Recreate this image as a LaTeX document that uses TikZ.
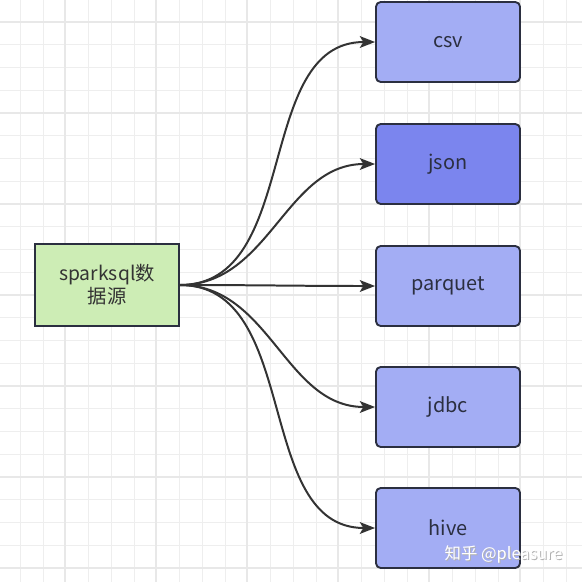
\documentclass[tikz,border=0pt]{standalone}
\usepackage{fontspec}
\setmainfont{Noto Sans CJK SC}
\usepackage{xcolor}
\usetikzlibrary{arrows.meta, positioning}

\definecolor{srcgreen}{HTML}{CDEDB5}
\definecolor{dstblue}{HTML}{A3ADF4}
\definecolor{dstdark}{HTML}{7B85EE}
\definecolor{edgedark}{HTML}{2B2F40}
\definecolor{gridgray}{HTML}{EEEEEE}

\begin{document}
\begin{tikzpicture}[x=0.03cm, y=-0.03cm,
    srcbox/.style={draw=edgedark, line width=1.6pt, fill=srcgreen,
      minimum width=4.32cm, minimum height=2.46cm, align=center,
      font=\fontsize{16.5}{19.5}\selectfont, text=black!80},
    dstbox/.style={draw=edgedark, line width=1.6pt, fill=dstblue,
      rounded corners=4pt, minimum width=4.32cm, minimum height=2.4cm,
      font=\fontsize{17}{20}\selectfont, text=edgedark},
    flow/.style={draw=black!80, line width=1.7pt,
      -{Stealth[length=13pt, width=10pt, inset=3pt]}}]
    \useasboundingbox (0,0) rectangle (582,582);
    \fill[white] (0,0) rectangle (582,582);

    % Grid
    \foreach \g in {0,...,25} {
        \draw[gridgray, line width=0.8pt] (-2.5+22.75*\g,0) -- (-2.5+22.75*\g,582);
        \draw[gridgray, line width=0.8pt] (0,-0.75+22.75*\g) -- (582,-0.75+22.75*\g);
    }
    \foreach \g in {0,...,6} {
        \draw[gray!18, line width=0.9pt] (-26+91*\g,0) -- (-26+91*\g,582);
        \draw[gray!18, line width=0.9pt] (0,22+91*\g) -- (582,22+91*\g);
    }

    % Source
    \node[srcbox] (src) at (107,285) {sparksql数\\据源};

    % Targets
    \node[dstbox] (csv) at (448,42) {csv};
    \node[dstbox, fill=dstdark] (json) at (448,164) {json};
    \node[dstbox] (parquet) at (448,286) {parquet};
    \node[dstbox] (jdbc) at (448,407) {jdbc};
    \node[dstbox] (hive) at (448,528) {hive};

    % Arrows
    \foreach \t in {csv,json,parquet,jdbc,hive}
        \draw[flow] (src.east) to[out=0, in=180] (\t.west);

    % Watermark
    \node[text=gray!60, font=\fontsize{14}{16}\selectfont] (mark0) at (504.6,555.8) {知乎 @pleasure};
    \node[text=white, font=\fontsize{14}{16}\selectfont] (mark) at (503.6,554.8) {知乎 @pleasure};
\end{tikzpicture}
\end{document}
